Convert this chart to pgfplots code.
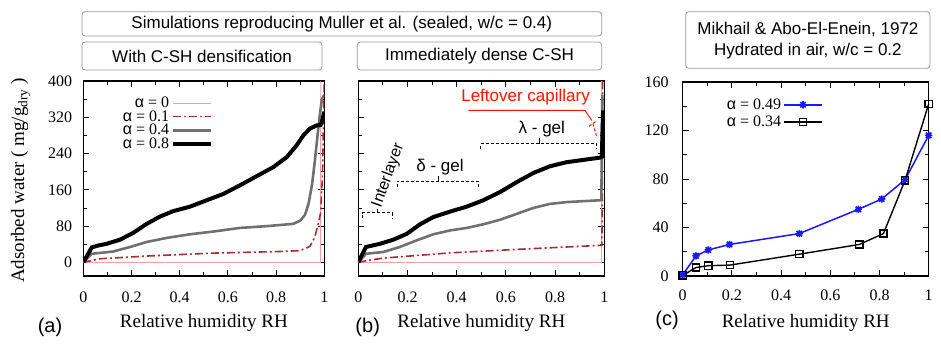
\documentclass[border=0pt]{standalone}
\usepackage{pgfplots}
\pgfplotsset{compat=1.18}
\usepackage{fontspec}
\setmainfont{Liberation Serif}
\setsansfont{Liberation Sans}

% gnuplot-like star: plus and cross on top of each other
\pgfdeclareplotmark{gpstar}{%
  \pgfpathmoveto{\pgfqpoint{-\pgfplotmarksize}{0pt}}\pgfpathlineto{\pgfqpoint{\pgfplotmarksize}{0pt}}%
  \pgfpathmoveto{\pgfqpoint{0pt}{-\pgfplotmarksize}}\pgfpathlineto{\pgfqpoint{0pt}{\pgfplotmarksize}}%
  \pgfpathmoveto{\pgfqpoint{-0.75\pgfplotmarksize}{-0.75\pgfplotmarksize}}\pgfpathlineto{\pgfqpoint{0.75\pgfplotmarksize}{0.75\pgfplotmarksize}}%
  \pgfpathmoveto{\pgfqpoint{-0.75\pgfplotmarksize}{0.75\pgfplotmarksize}}\pgfpathlineto{\pgfqpoint{0.75\pgfplotmarksize}{-0.75\pgfplotmarksize}}%
  \pgfusepathqstroke}

\definecolor{pinkline}{RGB}{244,160,160}
\definecolor{brownred}{RGB}{168,45,45}
\definecolor{grayline}{RGB}{112,112,112}
\definecolor{blueline}{RGB}{25,25,255}
\definecolor{boxgray}{RGB}{150,150,150}
\definecolor{annred}{RGB}{255,20,0}

\newcommand{\al}{{\sffamily α}}
\newcommand{\sfs}[1]{\sffamily\fontsize{#1}{#1}\selectfont}

\pgfplotsset{
  panel/.style={
    scale only axis, anchor=south west, height=195pt,
    xmin=0, xmax=1, xtick={0,0.2,0.4,0.6,0.8,1}, minor x tick num=1,
    tick align=inside, tick pos=both,
    major tick length=6pt, minor tick length=4pt,
    axis line style={line width=1.2pt},
    tick style={black, line width=0.9pt},
    /pgf/number format/assume math mode=true,
    ticklabel style={font=\fontsize{16}{16}\selectfont},
    xticklabel style={inner sep=0pt, yshift=-16pt},
    yticklabel style={inner sep=0pt, xshift=-11pt},
    xlabel={Relative humidity RH},
    label style={font=\fontsize{19}{19}\selectfont},
    xlabel style={at={(axis description cs:0.5,-0.24)}, anchor=center},
    legend plot pos=right, legend cell align=right,
    legend style={draw=none, fill=none, font=\fontsize{16}{17}\selectfont, row sep=-1pt, inner sep=0pt},
    legend image code/.code={\draw[mark repeat=2,mark phase=2,#1] plot coordinates {(0pt,0pt)(19pt,0pt)(38pt,0pt)};},
  },
  a0/.style={pinkline, line width=0.8pt},
  a1/.style={brownred, line width=1.6pt, dash pattern=on 8pt off 3pt on 2pt off 3pt},
  a4/.style={grayline, line width=2.6pt},
  a8/.style={black, line width=4pt},
}

\begin{document}
\begin{tikzpicture}[x=1pt,y=1pt]
\path[use as bounding box] (0pt,0pt) rectangle (941pt,348pt);

% (a) with C-SH densification
\begin{axis}[panel, at={(83.3pt,72pt)}, width=241pt,
  ymin=-30, ymax=400, ytick={0,80,160,240,320,400}, minor y tick num=1,
  ylabel={Adsorbed water ( mg/g\textsubscript{dry} )},
  ylabel style={at={(axis description cs:-0.26,0.49)}, anchor=center},
  legend style={at={(axis description cs:0.54,0.93)}, anchor=north east, row sep=-2.5pt}]
\addplot[a0] coordinates {(0,0)(0.984,0)(0.985,400)};
\addlegendentry{\al{} = 0}
\addplot[a1] coordinates {(0,0)(0.069,8)(0.263,14)(0.539,20.5)(0.816,24)(0.899,26)(0.94,35)(0.96,55)(0.975,85)(0.985,110)(0.993,200)(0.997,330)(1,400)};
\addlegendentry{\al{} = 0.1}
\addplot[a4] coordinates {(0,0)(0.035,19)(0.124,24)(0.194,34)(0.263,45)(0.346,54)(0.443,62)(0.539,68)(0.650,76)(0.762,80)(0.871,85)(0.9,92)(0.92,105)(0.935,130)(0.95,175)(0.96,220)(0.97,270)(0.98,320)(0.99,360)(1,370)};
\addlegendentry{\al{} = 0.4}
\addplot[a8] coordinates {(0,0)(0.035,33)(0.06,37)(0.097,41)(0.152,50)(0.207,65)(0.263,85)(0.318,101)(0.373,113)(0.443,123)(0.512,137)(0.581,151)(0.650,170)(0.719,190)(0.788,210)(0.844,232)(0.885,258)(0.913,280)(0.94,295)(0.968,302)(0.985,303)(0.99,310)(1,332)};
\addlegendentry{\al{} = 0.8}
\end{axis}

% (b) immediately dense C-SH
\begin{axis}[panel, at={(358.3pt,72pt)}, width=246pt,
  ymin=-30, ymax=400, ytick={0,80,160,240,320,400}, minor y tick num=1,
  yticklabels={}]
\addplot[a0] coordinates {(0,0)(0.99,0)(0.99,400)};
\addplot[a1] coordinates {(0,0)(0.035,4)(0.102,9.5)(0.373,21)(0.644,28.7)(0.982,37.5)(0.99,38)(0.992,130)(0.993,400)};
\addplot[a4] coordinates {(0,0)(0.031,19)(0.102,23)(0.169,34)(0.237,48.5)(0.305,62)(0.373,70.5)(0.441,76)(0.508,84)(0.576,94)(0.644,107)(0.711,120)(0.779,129)(0.847,133)(0.982,137)(0.988,138)(0.992,370)};
\addplot[a8] coordinates {(0,0)(0.031,34)(0.088,41)(0.142,50)(0.197,63)(0.251,84)(0.305,100)(0.373,112)(0.441,123)(0.508,137)(0.576,155)(0.644,177)(0.711,197)(0.779,212)(0.847,221)(0.915,226)(0.982,231)(0.99,233)(0.995,335)};
% brackets
\draw[black, line width=1pt, dash pattern=on 3pt off 2pt] (0.018,97)--(0.018,109)--(0.140,109)--(0.140,97);
\draw[black, line width=1pt] (0.078,109)--(0.078,118);
\draw[black, line width=1pt, dash pattern=on 3pt off 2pt] (0.158,166)--(0.158,179)--(0.487,179)--(0.487,166);
\draw[black, line width=1pt] (0.325,179)--(0.325,190);
\draw[black, line width=1pt, dash pattern=on 3pt off 2pt] (0.498,251)--(0.498,262)--(0.969,262)--(0.969,251);
\draw[black, line width=1pt] (0.735,262)--(0.735,274);
\node[font=\sfs{16}, rotate=70] at (0.122,192) {Interlayer};
\node[font=\sfs{17}] at (0.332,210) {δ - gel};
\node[font=\sfs{17}] at (0.746,294) {λ - gel};
\node[font=\sfs{17}, text=annred] at (0.68,364) {Leftover capillary};
\draw[annred, line width=1pt] (0.447,335)--(0.922,335)--(0.949,313);
\draw[annred, line width=1pt, dash pattern=on 3pt off 2pt] (0.938,300)--(0.966,311);
\draw[annred, line width=1pt, dash pattern=on 3pt off 2pt] (0.954,306)--(0.970,276);
\end{axis}

% (c) Mikhail & Abo-El-Enein
\begin{axis}[panel, at={(682.7pt,72pt)}, width=246pt, height=194pt,
  ymin=0, ymax=160, ytick={0,40,80,120,160}, minor y tick num=1,
  yticklabel style={xshift=-3pt}, xticklabel style={yshift=2.5pt},
  clip=false,
  legend style={at={(axis description cs:0.57,0.925)}, anchor=north east, row sep=1pt}]
\addplot[blueline, line width=1.5pt, mark=gpstar, mark size=3.6pt, mark options={solid, line width=1.6pt}]
  coordinates {(0,1)(0.054,16.6)(0.104,21.5)(0.19,26)(0.474,35)(0.714,55)(0.809,63.5)(0.904,79.5)(1,116)};
\addlegendentry{\al{} = 0.49}
\addplot[black, line width=1.4pt, mark=square, mark size=3.6pt, mark options={solid, line width=1.4pt}]
  coordinates {(0,0.5)(0.054,7)(0.104,8.5)(0.192,9)(0.474,18)(0.718,26)(0.816,35)(0.904,79)(1,142)};
\addlegendentry{\al{} = 0.34}
\end{axis}

% title boxes
\draw[boxgray, rounded corners=3pt, line width=0.8pt] (82pt,312pt) rectangle (601.7pt,336.3pt);
\node[font=\sfs{17}] at (341.8pt,324.2pt) {Simulations reproducing Muller et al. (sealed, w/c = 0.4)};
\draw[boxgray, rounded corners=3pt, line width=0.8pt] (82pt,278pt) rectangle (322pt,306pt);
\node[font=\sfs{17}] at (202pt,292pt) {With C-SH densification};
\draw[boxgray, rounded corners=3pt, line width=0.8pt] (357.3pt,278pt) rectangle (601.7pt,306pt);
\node[font=\sfs{17}] at (479.5pt,292pt) {Immediately dense C-SH};
\draw[boxgray, rounded corners=3pt, line width=0.8pt] (685.7pt,279.7pt) rectangle (930pt,336.3pt);
\node[font=\sffamily\fontsize{17}{21.6}\selectfont, align=center] at (807.9pt,307.5pt) {Mikhail \& Abo-El-Enein, 1972\\Hydrated in air, w/c = 0.2};

% panel letters
\node[font=\sfs{20}] at (50pt,20.5pt) {(a)};
\node[font=\sfs{20}] at (367.7pt,20.5pt) {(b)};
\node[font=\sfs{20}] at (667pt,27.5pt) {(c)};
\end{tikzpicture}
\end{document}
